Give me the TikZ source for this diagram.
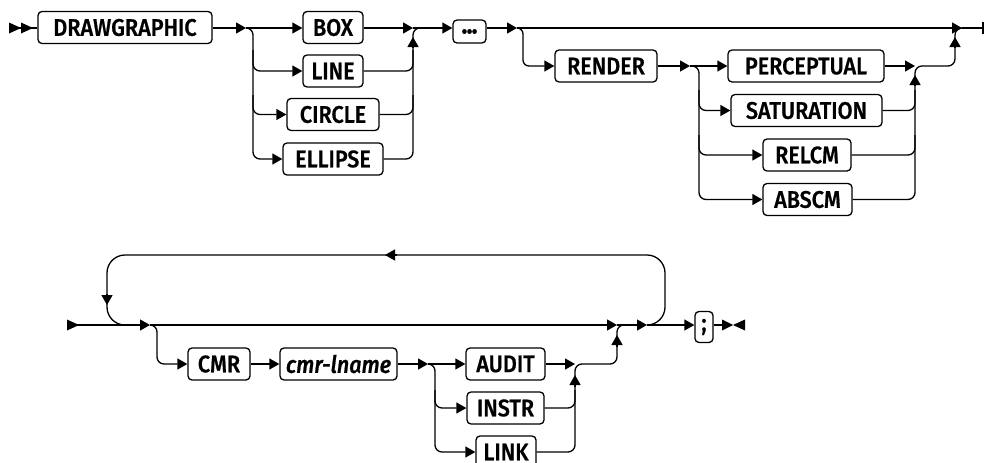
\documentclass[tikz,border=0pt]{standalone}
\usepackage{fontspec}
\setmainfont{Fira Sans Medium}[ItalicFont={Fira Sans Medium Italic}, FakeStretch=0.9, UprightFeatures={FakeBold=0.8}, ItalicFeatures={FakeBold=0.8}]
\usetikzlibrary{arrows.meta}
\begin{document}
\begin{tikzpicture}[x=1pt,y=-1pt,
  rail/.style={line width=1.3pt},
  tip/.style={-{Triangle[length=10pt,width=11pt]}},
  kw/.style={draw, line width=1.3pt, rounded corners=4pt, minimum height=32pt,
    inner sep=0pt, fill=white, font=\fontsize{24}{27}\selectfont},
  rc/.style={rounded corners=7pt}]
\useasboundingbox (0,0) rectangle (985,463);

% ---------- row 1 ----------
\node[kw, minimum width=174pt] (dg) at (125,27.5) {DRAWGRAPHIC};
\node[kw, minimum width=60pt] (box) at (333,27.5) {BOX};
\node[kw, minimum width=60pt] (line) at (333,71) {LINE};
\node[kw, minimum width=92pt] (circle) at (333,114.5) {CIRCLE};
\node[kw, minimum width=100pt] (ellipse) at (333,159) {ELLIPSE};
\node[kw, minimum width=33pt, minimum height=23pt, font=\fontsize{29}{29}\selectfont] (dots) at (469.5,31.5) {.\kern-1.2pt.\kern-1.2pt.};
\node[kw, minimum width=102pt] (render) at (606,66) {RENDER};
\node[kw, minimum width=156pt] (perc) at (806,66) {PERCEPTUAL};
\node[kw, minimum width=151pt] (sat) at (806.5,110.5) {SATURATION};
\node[kw, minimum width=88pt] (relcm) at (807,155) {RELCM};
\node[kw, minimum width=89pt] (abscm) at (807.5,199.5) {ABSCM};

\coordinate (s1) at (10,28);
\coordinate (a1) at (246,28);
\coordinate (m1) at (413,28);
\coordinate (a2) at (517,28);
\coordinate (a3) at (962,28);
\coordinate (e1) at (983,28);
\coordinate (a4) at (690,66);
\coordinate (m3) at (915,66);

% start symbol
\fill (9,22.5) -- (21,28) -- (9,33.5) -- cycle;
\fill (21,22.5) -- (33,28) -- (21,33.5) -- cycle;
\draw[rail] (s1) -- (dg.west |- s1);

\draw[rail,tip] (dg.east |- a1) -- (a1);
\draw[rail,tip] (a1) -- (box.west |- a1);
\draw[rail,tip,rc] (a1) -- (253,28) |- (ellipse.west);
\draw[rail,tip,rc] (253,50) |- (line.west);
\draw[rail,tip,rc] (253,95) |- (circle.west);
\draw[rail,tip] (box.east |- m1) -- (m1);
\draw[rail,rc] (ellipse.east) -| (413,28) -- (421,28);
\draw[rail,rc] (line.east) -| (413,50);
\draw[rail,rc] (circle.east) -| (413,95);
\draw[rail,tip] (413,48) -- (413,37);
\draw[rail,tip] (m1) -- (dots.west |- m1);
\draw[rail,tip] (dots.east |- a2) -- (a2);
\draw[rail,tip] (a2) -- (a3);
\draw[rail] (a3) -- (e1);
\draw[rail] (983,22) -- (983,34);

\draw[rail,tip,rounded corners=6pt] (a2) -- (523,28) |- (render.west);
\draw[rail,tip] (render.east) -- (a4);
\draw[rail,tip] (a4) -- (perc.west);
\draw[rail,tip,rc] (a4) -- (699,66) |- (abscm.west);
\draw[rail,tip,rc] (699,90) |- (sat.west);
\draw[rail,tip,rc] (699,135) |- (relcm.west);
\draw[rail,tip] (perc.east) -- (m3);
\draw[rail,rc] (abscm.east) -| (m3) -- (955,66) -- (955,28) -- (e1);
\draw[rail,rc] (sat.east) -| (915,90);
\draw[rail,rc] (relcm.east) -| (915,135);
\draw[rail,tip] (915,86) -- (915,75);
\draw[rail,tip] (955,48) -- (955,37);

% ---------- row 2 ----------
\node[kw, minimum width=62pt] (cmr) at (219,364) {CMR};
\node[kw, minimum width=117pt] (lname) at (338.5,364) {\itshape cmr-lname};
\node[kw, minimum width=79pt] (audit) at (505.5,364) {AUDIT};
\node[kw, minimum width=77pt] (instr) at (505.5,408) {INSTR};
\node[kw, minimum width=60pt] (link) at (506,452) {LINK};
\node[kw, minimum width=18pt, minimum height=31pt] (semi) at (704,327) {;};

\coordinate (s2) at (67,325);
\coordinate (a5) at (150,325);
\coordinate (a6) at (617,325);
\coordinate (a7) at (647,325);
\coordinate (a8) at (428,364);
\coordinate (m4) at (575,364);
\coordinate (e2) at (723,325);

\fill (67,319.5) -- (79,325) -- (67,330.5) -- cycle;
\draw[rail,tip] (s2) -- (a5);
\draw[rail,rounded corners=18pt] (a7) -- (665,325) -- (665,255) -- (107,255) -- (107,325) -- (127,325);
\draw[rail,tip] (397,255) -- (385,255);
\draw[rail,tip] (107,294) -- (107,305);
\draw[rail,tip] (a5) -- (a6);
\draw[rail,tip] (a6) -- (a7);
\draw[rail,tip] (a7) -- (semi.west |- a7);
\draw[rail] (semi.east |- a7) -- (e2);
\fill (722,319.5) -- (733,325) -- (722,330.5) -- cycle;
\fill (745,319.5) -- (733,325) -- (745,330.5) -- cycle;

\draw[rail,tip,rc] (a5) -- (157,325) |- (cmr.west);
\draw[rail,tip] (cmr.east) -- (lname.west);
\draw[rail,tip] (lname.east) -- (a8);
\draw[rail,tip] (a8) -- (audit.west);
\draw[rail,tip,rc] (a8) -- (435,364) |- (link.west);
\draw[rail,tip,rc] (435,390) |- (instr.west);
\draw[rail,tip] (audit.east) -- (m4);
\draw[rail,rc] (link.east) -| (m4) -- (617,364) -- (a6) -- (625,325);
\draw[rail,rc] (instr.east) -| (575,390);
\draw[rail,tip] (575,387) -- (575,375);
\draw[rail,tip] (617,347) -- (617,335);
\end{tikzpicture}
\end{document}
